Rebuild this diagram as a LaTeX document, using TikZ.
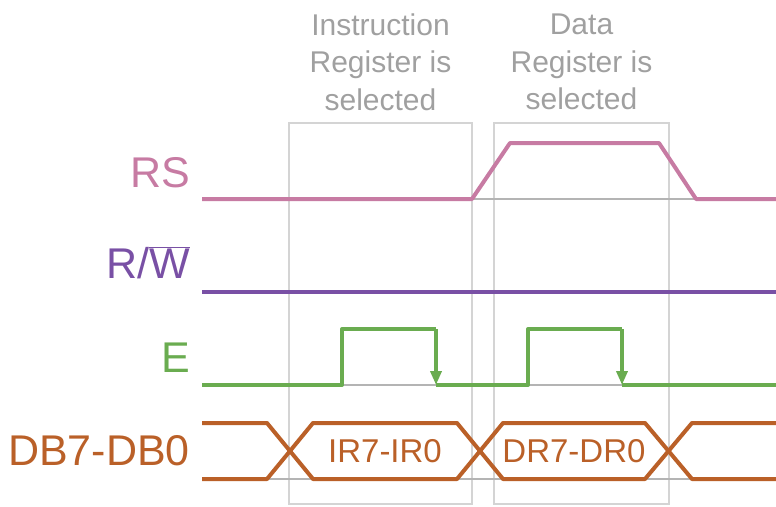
\documentclass[tikz,border=0pt]{standalone}
\usepackage{fontspec}
\setmainfont{Liberation Sans}
\usetikzlibrary{arrows.meta, calc}
\definecolor{rscol}{RGB}{199,123,163}
\definecolor{rwcol}{RGB}{121,80,165}
\definecolor{ecol}{RGB}{106,172,80}
\definecolor{dbcol}{RGB}{186,96,40}
\definecolor{boxcol}{RGB}{212,212,212}
\definecolor{basecol}{RGB}{180,180,180}
\definecolor{headcol}{RGB}{160,160,160}

\begin{document}
\begin{tikzpicture}[
    x=1pt, y=-1pt,
    >={Triangle[width=11pt, length=14pt]},
    sig/.style  ={inner sep=0pt, font=\fontsize{43}{50}\selectfont},
    head/.style ={inner sep=0pt, align=center, text=headcol,
                  font=\fontsize{30}{37.5}\selectfont},
    busl/.style ={inner sep=0pt, text=dbcol, font=\fontsize{33}{40}\selectfont},
    selbox/.style={draw=boxcol, line width=2pt},
    base/.style ={draw=basecol, line width=2.5pt},
    wave/.style ={line width=4pt, line join=round},
]
\useasboundingbox (0,0) rectangle (776,506);
% register selection windows
\draw[selbox] (289,123) rectangle (472,504);
\draw[selbox] (494,123) rectangle (669,504);
\node[head] (instr) at (380.5,62) {Instruction\\Register is\\selected};
\node[head] (data)  at (581.5,62) {Data\\Register is\\selected};
% signal names
\node[sig, anchor=base east, text=rscol] (rs) at (190,187) {RS};
\node[sig, anchor=base east, text=rwcol] (rw) at (190,278) {R/$\overline{\hbox{W}}$};
\node[sig, anchor=base east, text=ecol]  (en) at (190,372) {E};
\node[sig, anchor=base east, text=dbcol] (db) at (190,465) {DB7-DB0};
% grey reference levels
\draw[base] (202,199) -- (776,199);
\draw[base] (202,385) -- (776,385);
\draw[base] (202,479) -- (776,479);
% RS
\draw[wave, rscol] (202,199) -- (472,199) -- (510,143) -- (659,143)
                   -- (696,199) -- (776,199);
% R/W
\draw[wave, rwcol] (202,292) -- (776,292);
% E pulses
\draw[wave, ecol] (202,385) -- (342,385) -- (342,329) -- (436,329);
\draw[wave, ecol, ->] (436,329) -- (436,385);
\draw[wave, ecol] (436,385) -- (528,385) -- (528,329) -- (622,329);
\draw[wave, ecol, ->] (622,329) -- (622,385);
\draw[wave, ecol] (622,385) -- (776,385);
% data bus
\draw[wave, dbcol] (202,423) -- (267,423) -- (313,479) -- (457,479)
                   -- (503,423) -- (645,423) -- (692,479) -- (776,479);
\draw[wave, dbcol] (202,479) -- (267,479) -- (313,423) -- (457,423)
                   -- (503,479) -- (645,479) -- (692,423) -- (776,423);
\node[busl] (ir) at (385,451) {IR7-IR0};
\node[busl] (dr) at (574,451) {DR7-DR0};
\end{tikzpicture}
\end{document}
